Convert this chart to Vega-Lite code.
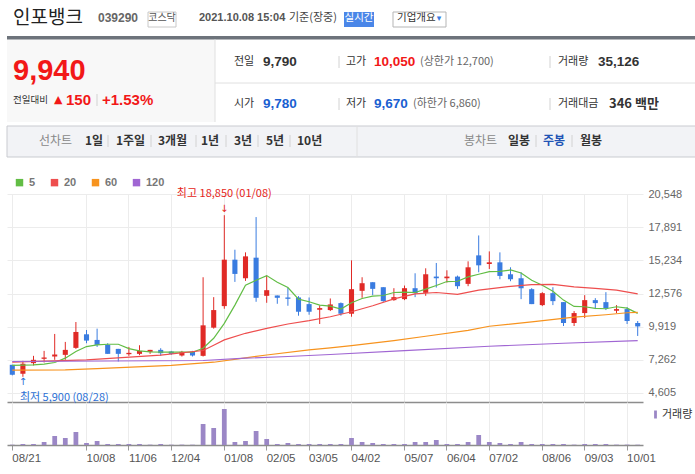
{
"$schema": "https://vega.github.io/schema/vega-lite/v6.json",
"padding": {"left": 6, "top": 0, "right": 0, "bottom": 0},
"background": "white",
"config": {"view": {"stroke": null}, "font": "Noto Sans CJK KR", "axis": {"labelOverlap": false}},
"spacing": 0,
"bounds": "flush",
"resolve": {"scale": {"color": "independent"}, "legend": {"color": "independent"}},
"datasets": {
"candles": [
{"d":"2020-08-21","o":6863,"h":6863,"l":6013,"c":6066,"v":250000},
{"d":"2020-08-28","o":6146,"h":7182,"l":5900,"c":6943,"v":800000},
{"d":"2020-09-04","o":6996,"h":7581,"l":6810,"c":7262,"v":800000},
{"d":"2020-09-11","o":7342,"h":7979,"l":7049,"c":7448,"v":2400000},
{"d":"2020-09-18","o":7528,"h":9335,"l":7262,"c":7687,"v":7200000},
{"d":"2020-09-25","o":7661,"h":8697,"l":7262,"c":8059,"v":5600000},
{"d":"2020-09-29","o":8219,"h":10291,"l":8139,"c":9494,"v":10400000},
{"d":"2020-10-08","o":9308,"h":9653,"l":8591,"c":8803,"v":1600000},
{"d":"2020-10-16","o":8856,"h":9760,"l":8298,"c":8458,"v":3200000},
{"d":"2020-10-23","o":8458,"h":8591,"l":7740,"c":7740,"v":800000},
{"d":"2020-10-30","o":8139,"h":8139,"l":7129,"c":7740,"v":800000},
{"d":"2020-11-06","o":7714,"h":8298,"l":7581,"c":7820,"v":800000},
{"d":"2020-11-13","o":7740,"h":8431,"l":7634,"c":7979,"v":800000},
{"d":"2020-11-20","o":7900,"h":8059,"l":7740,"c":8059,"v":300000},
{"d":"2020-11-27","o":8059,"h":8192,"l":7581,"c":7793,"v":800000},
{"d":"2020-12-04","o":7926,"h":7979,"l":7661,"c":7740,"v":250000},
{"d":"2020-12-11","o":7608,"h":7979,"l":7528,"c":7900,"v":300000},
{"d":"2020-12-18","o":7900,"h":7979,"l":7528,"c":7608,"v":250000},
{"d":"2020-12-24","o":7581,"h":13878,"l":7528,"c":10025,"v":16800000},
{"d":"2020-12-30","o":9839,"h":12284,"l":9760,"c":11248,"v":13600000},
{"d":"2021-01-08","o":11566,"h":18850,"l":11354,"c":15286,"v":28800000},
{"d":"2021-01-15","o":15286,"h":16083,"l":13506,"c":14144,"v":2400000},
{"d":"2021-01-22","o":13798,"h":15871,"l":13586,"c":15552,"v":3200000},
{"d":"2021-01-29","o":15446,"h":18700,"l":11912,"c":12231,"v":11200000},
{"d":"2021-02-05","o":12390,"h":14011,"l":11832,"c":12842,"v":4800000},
{"d":"2021-02-10","o":12417,"h":12417,"l":11752,"c":12231,"v":800000},
{"d":"2021-02-19","o":12257,"h":13054,"l":11593,"c":12151,"v":1600000},
{"d":"2021-02-26","o":12257,"h":12364,"l":10796,"c":11115,"v":800000},
{"d":"2021-03-05","o":11726,"h":12257,"l":10875,"c":11115,"v":800000},
{"d":"2021-03-12","o":11274,"h":11620,"l":10132,"c":11407,"v":800000},
{"d":"2021-03-19","o":11248,"h":12178,"l":11168,"c":11699,"v":800000},
{"d":"2021-03-26","o":11806,"h":11859,"l":10796,"c":10955,"v":800000},
{"d":"2021-04-02","o":10955,"h":15233,"l":10716,"c":12922,"v":5600000},
{"d":"2021-04-09","o":12789,"h":13878,"l":12231,"c":13400,"v":2400000},
{"d":"2021-04-16","o":13480,"h":13480,"l":12443,"c":12948,"v":1600000},
{"d":"2021-04-23","o":13081,"h":13081,"l":11912,"c":11965,"v":800000},
{"d":"2021-04-30","o":12045,"h":13001,"l":11992,"c":12284,"v":800000},
{"d":"2021-05-07","o":12124,"h":13214,"l":12045,"c":13001,"v":800000},
{"d":"2021-05-14","o":13001,"h":14197,"l":12284,"c":12603,"v":2400000},
{"d":"2021-05-21","o":12629,"h":14595,"l":12390,"c":14117,"v":2400000},
{"d":"2021-05-28","o":13931,"h":15020,"l":13054,"c":13798,"v":4000000},
{"d":"2021-06-04","o":13798,"h":14436,"l":13453,"c":13931,"v":800000},
{"d":"2021-06-11","o":13931,"h":14011,"l":12948,"c":13161,"v":800000},
{"d":"2021-06-18","o":13347,"h":15153,"l":13161,"c":14675,"v":2400000},
{"d":"2021-06-25","o":15631,"h":17226,"l":14276,"c":14834,"v":8000000},
{"d":"2021-07-02","o":14941,"h":15950,"l":14542,"c":15074,"v":2400000},
{"d":"2021-07-09","o":15074,"h":15871,"l":13718,"c":13984,"v":1600000},
{"d":"2021-07-16","o":14117,"h":14675,"l":13559,"c":13718,"v":800000},
{"d":"2021-07-23","o":13798,"h":14276,"l":12124,"c":13001,"v":2400000},
{"d":"2021-07-30","o":12922,"h":13001,"l":11726,"c":11726,"v":800000},
{"d":"2021-08-06","o":11646,"h":12682,"l":11566,"c":12603,"v":800000},
{"d":"2021-08-13","o":12603,"h":13081,"l":11646,"c":11965,"v":800000},
{"d":"2021-08-20","o":11885,"h":11885,"l":9972,"c":10211,"v":800000},
{"d":"2021-08-27","o":10211,"h":11168,"l":9972,"c":11008,"v":300000},
{"d":"2021-09-03","o":11008,"h":12443,"l":10610,"c":12045,"v":800000},
{"d":"2021-09-10","o":12045,"h":12204,"l":11327,"c":11806,"v":800000},
{"d":"2021-09-17","o":11885,"h":12682,"l":11248,"c":11407,"v":800000},
{"d":"2021-09-24","o":11195,"h":11646,"l":11008,"c":11327,"v":300000},
{"d":"2021-10-01","o":11327,"h":11487,"l":10132,"c":10371,"v":300000},
{"d":"2021-10-08","o":10211,"h":10371,"l":9175,"c":9940,"v":250000}
],
"ma": [
{"d":"2020-08-21","ma":"5","v":6810},{"d":"2020-08-28","ma":"5","v":6837},{"d":"2020-09-04","ma":"5","v":6863},{"d":"2020-09-11","ma":"5","v":6917},{"d":"2020-09-18","ma":"5","v":7049},
{"d":"2020-09-25","ma":"5","v":7395},{"d":"2020-09-29","ma":"5","v":7926},{"d":"2020-10-08","ma":"5","v":8325},{"d":"2020-10-16","ma":"5","v":8458},{"d":"2020-10-23","ma":"5","v":8511},
{"d":"2020-10-30","ma":"5","v":8511},{"d":"2020-11-06","ma":"5","v":8165},{"d":"2020-11-13","ma":"5","v":7979},{"d":"2020-11-20","ma":"5","v":7900},{"d":"2020-11-27","ma":"5","v":7873},
{"d":"2020-12-04","ma":"5","v":7873},{"d":"2020-12-11","ma":"5","v":7873},{"d":"2020-12-18","ma":"5","v":7873},{"d":"2020-12-24","ma":"5","v":8192},{"d":"2020-12-30","ma":"5","v":8989},
{"d":"2021-01-08","ma":"5","v":10185},{"d":"2021-01-15","ma":"5","v":11646},{"d":"2021-01-22","ma":"5","v":13240},{"d":"2021-01-29","ma":"5","v":13639},{"d":"2021-02-05","ma":"5","v":14011},
{"d":"2021-02-10","ma":"5","v":13479},{"d":"2021-02-19","ma":"5","v":13054},{"d":"2021-02-26","ma":"5","v":12124},{"d":"2021-03-05","ma":"5","v":11912},{"d":"2021-03-12","ma":"5","v":11646},
{"d":"2021-03-19","ma":"5","v":11566},{"d":"2021-03-26","ma":"5","v":11327},{"d":"2021-04-02","ma":"5","v":11832},{"d":"2021-04-09","ma":"5","v":12178},{"d":"2021-04-16","ma":"5","v":12364},
{"d":"2021-04-23","ma":"5","v":12417},{"d":"2021-04-30","ma":"5","v":12656},{"d":"2021-05-07","ma":"5","v":12682},{"d":"2021-05-14","ma":"5","v":12656},{"d":"2021-05-21","ma":"5","v":12922},
{"d":"2021-05-28","ma":"5","v":13214},{"d":"2021-06-04","ma":"5","v":13533},{"d":"2021-06-11","ma":"5","v":13559},{"d":"2021-06-18","ma":"5","v":13905},{"d":"2021-06-25","ma":"5","v":14117},
{"d":"2021-07-02","ma":"5","v":14329},{"d":"2021-07-09","ma":"5","v":14356},{"d":"2021-07-16","ma":"5","v":14462},{"d":"2021-07-23","ma":"5","v":14223},{"d":"2021-07-30","ma":"5","v":13639},
{"d":"2021-08-06","ma":"5","v":13240},{"d":"2021-08-13","ma":"5","v":12762},{"d":"2021-08-20","ma":"5","v":12045},{"d":"2021-08-27","ma":"5","v":11540},{"d":"2021-09-03","ma":"5","v":11513},
{"d":"2021-09-10","ma":"5","v":11381},{"d":"2021-09-17","ma":"5","v":11354},{"d":"2021-09-24","ma":"5","v":11513},{"d":"2021-10-01","ma":"5","v":11407},{"d":"2021-10-08","ma":"5","v":10982},
{"d":"2020-08-21","ma":"20","v":7076},{"d":"2020-10-08","ma":"20","v":7262},{"d":"2020-11-27","ma":"20","v":7634},{"d":"2020-12-24","ma":"20","v":8006},{"d":"2020-12-30","ma":"20","v":8431},
{"d":"2021-01-08","ma":"20","v":8856},{"d":"2021-01-22","ma":"20","v":9388},{"d":"2021-02-05","ma":"20","v":9786},{"d":"2021-02-19","ma":"20","v":10132},{"d":"2021-03-05","ma":"20","v":10397},
{"d":"2021-03-19","ma":"20","v":10716},{"d":"2021-04-02","ma":"20","v":11115},{"d":"2021-04-16","ma":"20","v":11593},{"d":"2021-04-30","ma":"20","v":12151},{"d":"2021-05-14","ma":"20","v":12549},
{"d":"2021-05-28","ma":"20","v":12656},{"d":"2021-06-11","ma":"20","v":12500},{"d":"2021-06-25","ma":"20","v":12850},{"d":"2021-07-02","ma":"20","v":12950},{"d":"2021-07-16","ma":"20","v":13150},
{"d":"2021-07-30","ma":"20","v":13280},{"d":"2021-08-13","ma":"20","v":13300},{"d":"2021-08-27","ma":"20","v":13100},{"d":"2021-09-10","ma":"20","v":12990},{"d":"2021-09-24","ma":"20","v":12850},
{"d":"2021-10-08","ma":"20","v":12540},
{"d":"2020-08-21","ma":"60","v":6430},{"d":"2020-09-25","ma":"60","v":6450},{"d":"2020-10-16","ma":"60","v":6560},{"d":"2020-12-04","ma":"60","v":6820},{"d":"2020-12-30","ma":"60","v":7070},
{"d":"2021-01-22","ma":"60","v":7420},{"d":"2021-02-05","ma":"60","v":7650},{"d":"2021-03-05","ma":"60","v":8059},{"d":"2021-03-19","ma":"60","v":8219},{"d":"2021-04-02","ma":"60","v":8405},
{"d":"2021-04-30","ma":"60","v":8803},{"d":"2021-05-21","ma":"60","v":9150},{"d":"2021-06-18","ma":"60","v":9620},{"d":"2021-07-02","ma":"60","v":9950},{"d":"2021-07-30","ma":"60","v":10300},
{"d":"2021-08-27","ma":"60","v":10680},{"d":"2021-09-17","ma":"60","v":10875},{"d":"2021-10-01","ma":"60","v":11035},{"d":"2021-10-08","ma":"60","v":11060},
{"d":"2020-08-21","ma":"120","v":7129},{"d":"2020-12-24","ma":"120","v":7209},{"d":"2021-01-22","ma":"120","v":7395},{"d":"2021-02-19","ma":"120","v":7528},{"d":"2021-03-19","ma":"120","v":7687},
{"d":"2021-05-07","ma":"120","v":8006},{"d":"2021-07-02","ma":"120","v":8351},{"d":"2021-08-20","ma":"120","v":8591},{"d":"2021-10-08","ma":"120","v":8803}
],
"notes": [
{"d":"2021-01-08","p":18850,"t":"최고 18,850 (01/08)","kind":"max"},
{"d":"2020-08-28","p":5900,"t":"최저 5,900 (08/28)","kind":"min"}
],
"header": [
{"s":"pricebox","c":0,"c2":19,"r":5,"r2":11},
{"s":"menubar","c":0,"c2":1,"r":12,"r2":14},
{"s":"topbar","c":0,"c2":1,"r":4,"r2":5},
{"s":"marketbox","c":4,"c2":5,"r":2,"r2":3},
{"s":"badge","c":8,"c2":9,"r":2,"r2":3},
{"s":"corpbox","c":11,"c2":12,"r":2,"r2":3},
{"s":"divider","c":19,"c2":19,"r":5,"r2":11},
{"s":"divider","c":19,"c2":1,"r":8,"r2":8},
{"s":"divider","c":39,"c2":39,"r":12,"r2":14},
{"s":"sep","c":22,"c2":22,"r":15,"r2":16},
{"s":"sep","c":27,"c2":27,"r":15,"r2":16},
{"s":"sep","c":22,"c2":22,"r":17,"r2":18},
{"s":"sep","c":27,"c2":27,"r":17,"r2":18},
{"s":"sep","c":17,"c2":17,"r":19,"r2":20},
{"s":"sep","c":44,"c2":44,"r":21,"r2":22},
{"s":"sep","c":45,"c2":45,"r":21,"r2":22},
{"s":"sep","c":46,"c2":46,"r":21,"r2":22},
{"s":"sep","c":47,"c2":47,"r":21,"r2":22},
{"s":"sep","c":48,"c2":48,"r":21,"r2":22},
{"s":"sep","c":49,"c2":49,"r":21,"r2":22},
{"s":"sep","c":50,"c2":50,"r":21,"r2":22},
{"s":"sep","c":51,"c2":51,"r":21,"r2":22},
{"s":"name","t":"인포뱅크","c":2,"r":1},
{"s":"code","t":"039290","c":3,"r":1},
{"s":"market","t":"코스닥","c":6,"r":1},
{"s":"time","t":"2021.10.08 15:04","c":7,"r":1},
{"s":"timeNote","t":"기준(장중)","c":52,"r":1},
{"s":"realtime","t":"실시간","c":10,"r":1},
{"s":"corp","t":"기업개요","c":13,"r":1},
{"s":"corpArrow","t":"▾","c":14,"r":1},
{"s":"price","t":"9,940","c":2,"r":7},
{"s":"diffLabel","t":"전일대비","c":2,"r":9},
{"s":"diffArrow","t":"▲","c":15,"r":9},
{"s":"diffUp","t":"150","c":16,"r":9},
{"s":"diffUp","t":"+1.53%","c":18,"r":9},
{"s":"infoLabel","t":"전일","c":20,"r":6},
{"s":"infoValue","t":"9,790","c":21,"r":6},
{"s":"infoLabel","t":"고가","c":23,"r":6},
{"s":"infoUp","t":"10,050","c":24,"r":6},
{"s":"infoNote","t":"(상한가 12,700)","c":25,"r":6},
{"s":"infoLabel","t":"거래량","c":28,"r":6},
{"s":"infoValue","t":"35,126","c":29,"r":6},
{"s":"infoLabel","t":"시가","c":20,"r":10},
{"s":"infoDown","t":"9,780","c":21,"r":10},
{"s":"infoLabel","t":"저가","c":23,"r":10},
{"s":"infoDown","t":"9,670","c":24,"r":10},
{"s":"infoNote","t":"(하한가 6,860)","c":26,"r":10},
{"s":"infoLabel","t":"거래대금","c":28,"r":10},
{"s":"infoAmount","t":"346 백만","c":30,"r":10},
{"s":"menuHead","t":"선차트","c":31,"r":13},
{"s":"menuItem","t":"1일","c":32,"r":13},
{"s":"menuItem","t":"1주일","c":33,"r":13},
{"s":"menuItem","t":"3개월","c":34,"r":13},
{"s":"menuItem","t":"1년","c":35,"r":13},
{"s":"menuItem","t":"3년","c":36,"r":13},
{"s":"menuItem","t":"5년","c":37,"r":13},
{"s":"menuItem","t":"10년","c":38,"r":13},
{"s":"menuHead","t":"봉차트","c":40,"r":13},
{"s":"menuItem","t":"일봉","c":41,"r":13},
{"s":"menuActive","t":"주봉","c":42,"r":13},
{"s":"menuItem","t":"월봉","c":43,"r":13}
]
},
"vconcat": [
{
"width": 689, "height": 194,
"data": {"name": "header"},
"encoding": {
"x": {"field": "c", "type": "quantitative", "axis": null, "scale": {"zero": false, "nice": false, "domain": [0,1,2,3,4,5,6,7,8,9,10,11,12,13,14,15,16,17,18,19,20,21,22,23,24,25,26,27,28,29,30,31,32,33,34,35,36,37,38,39,40,41,42,43,44,45,46,47,48,49,50,51,52], "range": [0,689,6,91,141,169,155,192,337,367,352,386,439,390,432,47,59,90,95,208,227,256,332,339,367,413,406,543,551,591,602,32,78,109,151,194,227,259,290,350,457,501,536,573,101,144,189,219,251,283,529,565,282]}},
"y": {"field": "r", "type": "quantitative", "axis": null, "scale": {"zero": false, "nice": false, "domain": [0,1,2,3,4,5,6,7,8,9,10,11,12,13,14,15,16,17,18,19,20,21,22], "range": [0,18,12,27,36,39.5,62,71,83,100,104,122,126,141,157,56,68,98,110,94,106,135,147]}}
},
"layer": [
{"transform": [{"filter": "datum.s == 'pricebox'"}], "mark": {"type": "rect", "fill": "#f8f8f8"}, "encoding": {"x2": {"field": "c2"}, "y2": {"field": "r2"}}},
{"transform": [{"filter": "datum.s == 'menubar'"}], "mark": {"type": "rect", "fill": "#f2f3f6", "stroke": "#c9cbd0", "strokeWidth": 1}, "encoding": {"x2": {"field": "c2"}, "y2": {"field": "r2"}}},
{"transform": [{"filter": "datum.s == 'topbar'"}], "mark": {"type": "rect", "fill": "#6d737b"}, "encoding": {"x2": {"field": "c2"}, "y2": {"field": "r2"}}},
{"transform": [{"filter": "datum.s == 'marketbox'"}], "mark": {"type": "rect", "fill": "white", "stroke": "#c8c8c8", "strokeWidth": 1}, "encoding": {"x2": {"field": "c2"}, "y2": {"field": "r2"}}},
{"transform": [{"filter": "datum.s == 'badge'"}], "mark": {"type": "rect", "fill": "#4a86e8"}, "encoding": {"x2": {"field": "c2"}, "y2": {"field": "r2"}}},
{"transform": [{"filter": "datum.s == 'corpbox'"}], "mark": {"type": "rect", "fill": "white", "stroke": "#b5b5b5", "strokeWidth": 1}, "encoding": {"x2": {"field": "c2"}, "y2": {"field": "r2"}}},
{"transform": [{"filter": "datum.s == 'divider'"}], "mark": {"type": "rule", "stroke": "#e0e0e0", "strokeWidth": 1}, "encoding": {"x2": {"field": "c2"}, "y2": {"field": "r2"}}},
{"transform": [{"filter": "datum.s == 'sep'"}], "mark": {"type": "rule", "stroke": "#d2d2d2", "strokeWidth": 1}, "encoding": {"x2": {"field": "c2"}, "y2": {"field": "r2"}}},
{"transform": [{"filter": "datum.s == 'name'"}], "mark": {"type": "text", "align": "left", "baseline": "middle", "fontSize": 19, "color": "#222222", "font": "Noto Sans CJK KR"}, "encoding": {"text": {"field": "t"}}},
{"transform": [{"filter": "datum.s == 'code'"}], "mark": {"type": "text", "align": "left", "baseline": "middle", "fontSize": 12, "fontWeight": "bold", "color": "#666666", "font": "Liberation Sans"}, "encoding": {"text": {"field": "t"}}},
{"transform": [{"filter": "datum.s == 'market'"}], "mark": {"type": "text", "align": "center", "baseline": "middle", "fontSize": 10, "color": "#555555", "font": "Noto Sans CJK KR"}, "encoding": {"text": {"field": "t"}}},
{"transform": [{"filter": "datum.s == 'time'"}], "mark": {"type": "text", "align": "left", "baseline": "middle", "fontSize": 11, "fontWeight": "bold", "color": "#555555", "font": "Liberation Sans"}, "encoding": {"text": {"field": "t"}}},
{"transform": [{"filter": "datum.s == 'timeNote'"}], "mark": {"type": "text", "align": "left", "baseline": "middle", "fontSize": 11, "color": "#444444", "font": "Noto Sans CJK KR"}, "encoding": {"text": {"field": "t"}}},
{"transform": [{"filter": "datum.s == 'realtime'"}], "mark": {"type": "text", "align": "center", "baseline": "middle", "fontSize": 10.5, "color": "white", "font": "Noto Sans CJK KR"}, "encoding": {"text": {"field": "t"}}},
{"transform": [{"filter": "datum.s == 'corp'"}], "mark": {"type": "text", "align": "left", "baseline": "middle", "fontSize": 10.5, "color": "#333333", "font": "Noto Sans CJK KR"}, "encoding": {"text": {"field": "t"}}},
{"transform": [{"filter": "datum.s == 'corpArrow'"}], "mark": {"type": "text", "align": "center", "baseline": "middle", "fontSize": 9, "color": "#3a7ce0", "font": "DejaVu Sans"}, "encoding": {"text": {"field": "t"}}},
{"transform": [{"filter": "datum.s == 'price'"}], "mark": {"type": "text", "align": "left", "baseline": "middle", "fontSize": 29, "fontWeight": "bold", "color": "#f21818", "font": "Liberation Sans"}, "encoding": {"text": {"field": "t"}}},
{"transform": [{"filter": "datum.s == 'diffLabel'"}], "mark": {"type": "text", "align": "left", "baseline": "middle", "fontSize": 9.5, "color": "#333333", "font": "Noto Sans CJK KR"}, "encoding": {"text": {"field": "t"}}},
{"transform": [{"filter": "datum.s == 'diffArrow'"}], "mark": {"type": "text", "align": "left", "baseline": "middle", "fontSize": 11, "color": "#f21818", "font": "DejaVu Sans"}, "encoding": {"text": {"field": "t"}}},
{"transform": [{"filter": "datum.s == 'diffUp'"}], "mark": {"type": "text", "align": "left", "baseline": "middle", "fontSize": 15, "fontWeight": "bold", "color": "#f21818", "font": "Liberation Sans"}, "encoding": {"text": {"field": "t"}}},
{"transform": [{"filter": "datum.s == 'infoLabel'"}], "mark": {"type": "text", "align": "left", "baseline": "middle", "fontSize": 11, "color": "#333333", "font": "Noto Sans CJK KR"}, "encoding": {"text": {"field": "t"}}},
{"transform": [{"filter": "datum.s == 'infoValue'"}], "mark": {"type": "text", "align": "left", "baseline": "middle", "fontSize": 13.5, "fontWeight": "bold", "color": "#333333", "font": "Liberation Sans"}, "encoding": {"text": {"field": "t"}}},
{"transform": [{"filter": "datum.s == 'infoUp'"}], "mark": {"type": "text", "align": "left", "baseline": "middle", "fontSize": 13.5, "fontWeight": "bold", "color": "#f21818", "font": "Liberation Sans"}, "encoding": {"text": {"field": "t"}}},
{"transform": [{"filter": "datum.s == 'infoDown'"}], "mark": {"type": "text", "align": "left", "baseline": "middle", "fontSize": 13.5, "fontWeight": "bold", "color": "#1a5fd1", "font": "Liberation Sans"}, "encoding": {"text": {"field": "t"}}},
{"transform": [{"filter": "datum.s == 'infoNote'"}], "mark": {"type": "text", "align": "left", "baseline": "middle", "fontSize": 11, "color": "#666666", "font": "Noto Sans CJK KR"}, "encoding": {"text": {"field": "t"}}},
{"transform": [{"filter": "datum.s == 'infoAmount'"}], "mark": {"type": "text", "align": "left", "baseline": "middle", "fontSize": 13, "fontWeight": "bold", "color": "#333333", "font": "Noto Sans CJK KR"}, "encoding": {"text": {"field": "t"}}},
{"transform": [{"filter": "datum.s == 'menuHead'"}], "mark": {"type": "text", "align": "left", "baseline": "middle", "fontSize": 12, "color": "#888888", "font": "Noto Sans CJK KR"}, "encoding": {"text": {"field": "t"}}},
{"transform": [{"filter": "datum.s == 'menuItem'"}], "mark": {"type": "text", "align": "left", "baseline": "middle", "fontSize": 12, "fontWeight": "bold", "color": "#333333", "font": "Noto Sans CJK KR"}, "encoding": {"text": {"field": "t"}}},
{"transform": [{"filter": "datum.s == 'menuActive'"}], "mark": {"type": "text", "align": "left", "baseline": "middle", "fontSize": 12, "fontWeight": "bold", "color": "#2254b5", "font": "Noto Sans CJK KR"}, "encoding": {"text": {"field": "t"}}}
]
},
{
"width": 636, "height": 208,
"encoding": {
  "x": {"field": "d", "type": "ordinal", "scale": {"paddingInner": 0, "paddingOuter": 0},
   "axis": {"title": null, "values": ["2020-08-21","2020-10-08","2020-11-06","2020-12-04","2021-01-08","2021-02-05","2021-03-05","2021-04-02","2021-05-07","2021-06-04","2021-07-02","2021-08-06","2021-09-03","2021-10-01"], "bandPosition": 0.5, "grid": true, "gridColor": "#ececec", "labels": false, "ticks": false, "domain": true, "domainColor": "#8d8d8d", "domainWidth": 1.5}}
},
"layer": [
{"data": {"name": "candles"}, "mark": {"type": "rule", "strokeWidth": 1},
 "encoding": {
  "y": {"field": "l", "type": "quantitative", "scale": {"domain": [3883, 20548], "nice": false, "zero": false},
   "axis": {"title": null, "orient": "right", "values": [4605, 7262, 9919, 12576, 15234, 17891, 20548], "format": ",d", "labelOverlap": false, "grid": true, "gridColor": "#ececec", "domain": false, "ticks": false, "labelColor": "#666666", "labelFontSize": 11, "labelFont": "Liberation Sans", "labelPadding": 5}},
  "y2": {"field": "h"},
  "color": {"condition": {"test": "datum.c >= datum.o", "value": "#e02a26"}, "value": "#3a7ce0"}
 }},
{"data": {"name": "candles"}, "mark": {"type": "bar", "width": {"band": 0.48}},
 "encoding": {
  "y": {"field": "o", "type": "quantitative",
   "axis": {"title": null, "orient": "right", "values": [4605, 7262, 9919, 12576, 15234, 17891, 20548], "format": ",d", "labelOverlap": false, "grid": true, "gridColor": "#ececec", "domain": false, "ticks": false, "labelColor": "#666666", "labelFontSize": 11, "labelFont": "Liberation Sans", "labelPadding": 5}},
  "y2": {"field": "c"},
  "color": {"condition": {"test": "datum.c >= datum.o", "value": "#e02a26"}, "value": "#3a7ce0"}
 }},
{"data": {"name": "ma"}, "mark": {"type": "line", "strokeWidth": 1.2},
 "encoding": {
  "y": {"field": "v", "type": "quantitative",
   "axis": {"title": null, "orient": "right", "values": [4605, 7262, 9919, 12576, 15234, 17891, 20548], "format": ",d", "labelOverlap": false, "grid": true, "gridColor": "#ececec", "domain": false, "ticks": false, "labelColor": "#666666", "labelFontSize": 11, "labelFont": "Liberation Sans", "labelPadding": 5}},
  "color": {"field": "ma", "type": "nominal", "scale": {"domain": ["5","20","60","120"], "range": ["#62bd45","#ee4e4e","#f7931e","#a066d3"]},
   "legend": {"title": null, "orient": "none", "legendX": 7, "legendY": -17, "direction": "horizontal", "symbolType": "square", "symbolSize": 6, "symbolStrokeWidth": 5, "labelFont": "Liberation Sans", "labelFontWeight": "bold", "labelColor": "#777777", "labelFontSize": 11, "labelOffset": 4, "columnPadding": 7}}
 }},
{"data": {"name": "notes"}, "transform": [{"filter": "datum.kind == 'max'"}], "mark": {"type": "text", "dy": -21, "fontSize": 11, "color": "#e52420", "font": "Noto Sans CJK KR"},
 "encoding": {"y": {"field": "p", "type": "quantitative",
   "axis": {"title": null, "orient": "right", "values": [4605, 7262, 9919, 12576, 15234, 17891, 20548], "format": ",d", "labelOverlap": false, "grid": true, "gridColor": "#ececec", "domain": false, "ticks": false, "labelColor": "#666666", "labelFontSize": 11, "labelFont": "Liberation Sans", "labelPadding": 5}}, "text": {"field": "t"}}},
{"data": {"name": "notes"}, "transform": [{"filter": "datum.kind == 'max'"}], "mark": {"type": "text", "dy": -6, "fontSize": 10, "color": "#e52420", "font": "DejaVu Sans"},
 "encoding": {"y": {"field": "p", "type": "quantitative",
   "axis": {"title": null, "orient": "right", "values": [4605, 7262, 9919, 12576, 15234, 17891, 20548], "format": ",d", "labelOverlap": false, "grid": true, "gridColor": "#ececec", "domain": false, "ticks": false, "labelColor": "#666666", "labelFontSize": 11, "labelFont": "Liberation Sans", "labelPadding": 5}}, "text": {"value": "↓"}}},
{"data": {"name": "notes"}, "transform": [{"filter": "datum.kind == 'min'"}], "mark": {"type": "text", "align": "left", "dx": -3, "dy": 21, "fontSize": 11, "color": "#2b6fd5", "font": "Noto Sans CJK KR"},
 "encoding": {"y": {"field": "p", "type": "quantitative",
   "axis": {"title": null, "orient": "right", "values": [4605, 7262, 9919, 12576, 15234, 17891, 20548], "format": ",d", "labelOverlap": false, "grid": true, "gridColor": "#ececec", "domain": false, "ticks": false, "labelColor": "#666666", "labelFontSize": 11, "labelFont": "Liberation Sans", "labelPadding": 5}}, "text": {"field": "t"}}},
{"data": {"name": "notes"}, "transform": [{"filter": "datum.kind == 'min'"}], "mark": {"type": "text", "dy": 5, "fontSize": 10, "color": "#2b6fd5", "font": "DejaVu Sans"},
 "encoding": {"y": {"field": "p", "type": "quantitative",
   "axis": {"title": null, "orient": "right", "values": [4605, 7262, 9919, 12576, 15234, 17891, 20548], "format": ",d", "labelOverlap": false, "grid": true, "gridColor": "#ececec", "domain": false, "ticks": false, "labelColor": "#666666", "labelFontSize": 11, "labelFont": "Liberation Sans", "labelPadding": 5}}, "text": {"value": "↑"}}}
]
},
{
"width": 636, "height": 43,
"data": {"name": "candles"},
"mark": {"type": "bar", "width": {"band": 0.45}},
"encoding": {
 "x": {"field": "d", "type": "ordinal", "scale": {"paddingInner": 0, "paddingOuter": 0},
  "axis": {"title": null, "values": ["2020-08-21","2020-10-08","2020-11-06","2020-12-04","2021-01-08","2021-02-05","2021-03-05","2021-04-02","2021-05-07","2021-06-04","2021-07-02","2021-08-06","2021-09-03","2021-10-01"], "labelExpr": "substring(datum.value, 5, 7) + '/' + substring(datum.value, 8, 10)", "labelOverlap": false, "bandPosition": 0.5, "labelAngle": 0, "labelAlign": "left", "labelBaseline": "top", "grid": true, "gridColor": "#ececec", "domainColor": "#8d8d8d", "domainWidth": 1.5, "tickColor": "#999999", "tickSize": 5, "labelColor": "#555555", "labelFontSize": 11.5, "labelFont": "Liberation Sans", "labelPadding": 2}},
 "y": {"field": "v", "type": "quantitative", "scale": {"domain": [0, 34400000], "nice": false}, "axis": null},
 "color": {"datum": "거래량", "type": "nominal", "scale": {"range": ["#9b87c6"]},
  "legend": {"title": null, "orient": "none", "legendX": 643, "legendY": 7, "symbolType": "M-0.35,-1H0.35V1H-0.35Z", "symbolSize": 64, "symbolStrokeWidth": 0, "labelFont": "Noto Sans CJK KR", "labelFontSize": 11, "labelColor": "#333333", "labelOffset": 1}}
}
}
]
}
